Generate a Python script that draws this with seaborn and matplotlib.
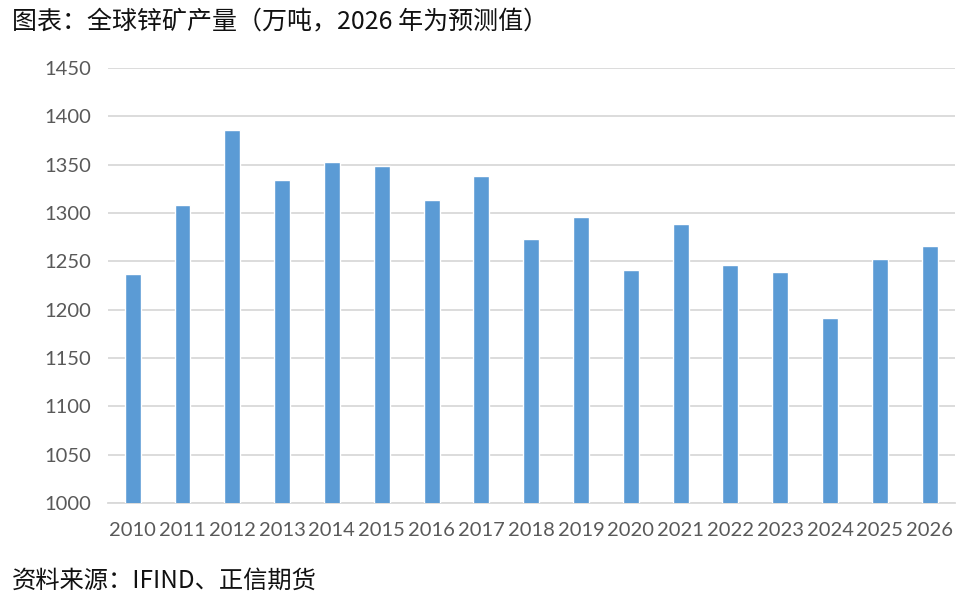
import matplotlib.pyplot as plt
import seaborn as sns
import numpy as np
import pandas as pd

years = [str(y) for y in range(2010, 2027)]
output = [1237, 1308, 1386, 1334, 1353, 1348, 1313, 1338, 1273,
          1296, 1241, 1289, 1246, 1239, 1191, 1252, 1266]
y_ticks = list(range(1000, 1451, 50))

sns.set_style("white")
plt.rcParams['font.family'] = ['Lato', 'Noto Sans CJK SC', 'DejaVu Sans']

df = pd.DataFrame({"year": years, "output": output})

fig = plt.figure(figsize=(9.8, 6.06), dpi=100)
ax = fig.add_axes([0.110, 0.170, 0.864, 0.718])

sns.barplot(data=df, x="year", y="output", color="#5B9BD5", width=0.32,
            saturation=1, ax=ax, zorder=3)

ax.set_ylim(1000, 1450)
ax.set_yticks(y_ticks)
ax.set_xlim(-0.5, len(years) - 0.5)
ax.yaxis.grid(True, color="#d9d9d9", linewidth=1.3, zorder=0)
ax.set_axisbelow(True)

for s in ["top", "right", "left"]:
    ax.spines[s].set_visible(False)
ax.spines["bottom"].set_color("#d9d9d9")
ax.spines["bottom"].set_linewidth(1.3)

# category boundary ticks like Excel
ax.set_xticks(np.arange(-0.5, len(years), 1), minor=True)
ax.tick_params(axis="x", which="minor", length=6, color="#d9d9d9", width=1.3)
ax.tick_params(axis="x", which="major", length=0, pad=14, labelsize=14.5, labelcolor="#595959")
ax.tick_params(axis="y", length=0, pad=12, labelsize=14.5, labelcolor="#595959")
ax.set_xlabel("")
ax.set_ylabel("")

fig.text(0.012, 0.965, "图表：全球锌矿产量（万吨，2026 年为预测值）", fontsize=18,
         ha="left", va="center", color="#111111", family=['Noto Sans CJK SC', 'DejaVu Sans'])
fig.text(0.012, 0.042, "资料来源：IFIND、正信期货", fontsize=17.5,
         ha="left", va="center", color="#111111", family=['Noto Sans CJK SC', 'DejaVu Sans'])

fig.savefig("out.png", dpi=100)
